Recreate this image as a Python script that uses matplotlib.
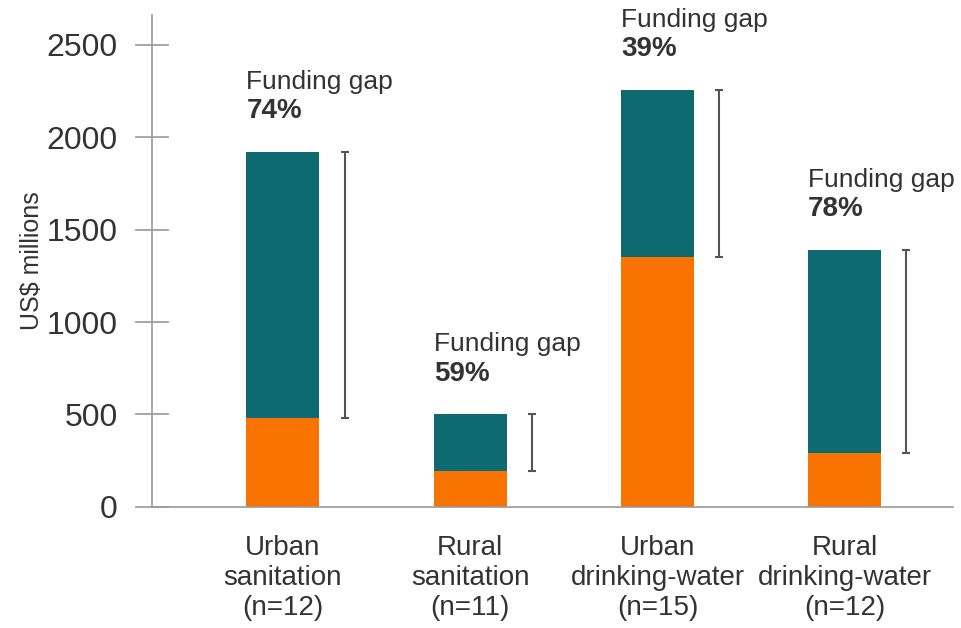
import matplotlib.pyplot as plt

plt.rcParams['font.family'] = ['Liberation Sans Narrow', 'Liberation Sans', 'DejaVu Sans']

categorias = ['Urban\nsanitation\n(n=12)', 'Rural\nsanitation\n(n=11)',
              'Urban\ndrinking-water\n(n=15)', 'Rural\ndrinking-water\n(n=12)']
financiado = [480, 195, 1350, 290]
total = [1920, 500, 2255, 1390]
lacuna = ['74%', '59%', '39%', '78%']

laranja = '#f97300'
verde = '#0d6a70'
cinza = '#9a9a9a'
texto = '#333333'

fig = plt.figure(figsize=(9.61, 6.28), dpi=100)
ax = fig.add_axes([0.158, 0.193, 0.834, 0.783])

x = range(len(categorias))
larg = 0.39
resto = [t - f for t, f in zip(total, financiado)]
ax.bar(x, financiado, width=larg, color=laranja)
ax.bar(x, resto, width=larg, bottom=financiado, color=verde)

# barras do gap ao lado
for i in x:
    ax.errorbar(i + 0.33, (total[i] + financiado[i]) / 2, yerr=(total[i] - financiado[i]) / 2,
                fmt='none', ecolor='#555555', elinewidth=1.5, capsize=3, capthick=1.5)
    ax.annotate('Funding gap', (i - larg / 2, total[i]), xytext=(0, 42), textcoords='offset points',
                ha='left', va='bottom', fontsize=19, color=texto)
    ax.annotate(lacuna[i], (i - larg / 2, total[i]), xytext=(0, 20), textcoords='offset points',
                ha='left', va='bottom', fontsize=20, color=texto, fontweight='bold')

ax.set_xlim(-0.7, 3.58)
ax.set_ylim(0, 2662)
ax.set_yticks([0, 500, 1000, 1500, 2000, 2500])
ax.set_xticks(list(x))
ax.set_xticklabels(categorias, fontsize=20, color=texto, linespacing=1.2)
ax.tick_params(axis='y', direction='inout', length=25, width=1.2, color=cinza,
               labelsize=23, labelcolor=texto, pad=12)
ax.tick_params(axis='x', length=0, pad=20)
ax.set_ylabel('US$ millions', fontsize=18, color=texto, labelpad=2)

for lado in ['top', 'right']:
    ax.spines[lado].set_visible(False)
for lado in ['left', 'bottom']:
    ax.spines[lado].set_color(cinza)
    ax.spines[lado].set_linewidth(1.2)

plt.savefig('out.png', dpi=100)
